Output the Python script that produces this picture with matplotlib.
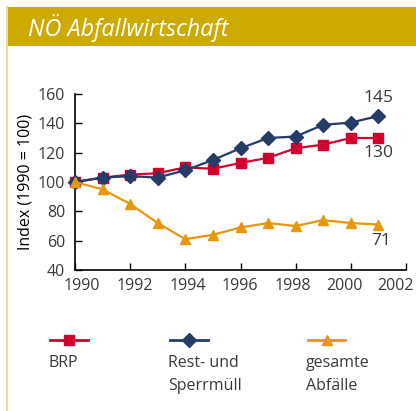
import matplotlib
matplotlib.use("Agg")
import matplotlib.pyplot as plt
import matplotlib.transforms as mtransforms
from matplotlib.lines import Line2D
from matplotlib.patches import Rectangle

years = [1990, 1991, 1992, 1993, 1994, 1995, 1996, 1997, 1998, 1999, 2000, 2001]
brp = [100, 103, 105, 106, 110, 109, 113, 116.5, 123, 125.5, 130, 130]
rest_sperr = [100, 103, 104, 103, 108, 115, 123, 130, 131, 139, 140.5, 145]
gesamt = [100, 95, 85, 72, 61, 64, 69, 72, 70, 74, 72, 71]

series_names = ["BRP", "Rest- und\nSperrmüll", "gesamte\nAbfälle"]
end_labels = ["130", "145", "71"]
xticks = [1990, 1992, 1994, 1996, 1998, 2000, 2002]
yticks = [40, 60, 80, 100, 120, 140, 160]

RED = "#D3002E"
NAVY = "#253B68"
ORANGE = "#E8960C"
GOLD = "#CCAA00"
TEXT = "#3a3a3a"

plt.rcParams["font.family"] = ["Open Sans", "DejaVu Sans"]

W, H = 416, 411
fig = plt.figure(figsize=(W / 100, H / 100), dpi=100)

# header band and left frame line
fig.add_artist(Rectangle((6 / W, 1 - 46 / H), 1, 39 / H, transform=fig.transFigure,
                         facecolor=GOLD, edgecolor="none"))
fig.add_artist(Line2D([6.5 / W, 6.5 / W], [0, 1 - 7 / H], transform=fig.transFigure,
                      color="#EAD9A0", lw=1.5))
fig.text(28 / W, 1 - 28 / H, "NÖ Abfallwirtschaft", color="white", fontsize=16.8,
         style="italic", va="center", ha="left")

ax = fig.add_axes([75 / W, 1 - 270 / H, (406 - 75) / W, (270 - 94) / H])
styles = [(brp, RED, "s", 7), (rest_sperr, NAVY, "D", 7), (gesamt, ORANGE, "^", 7.5)]
for vals, col, mk, ms in styles:
    ax.plot(years, vals, color=col, lw=1.6, marker=mk, ms=ms, zorder=3, clip_on=False)

ax.set_xlim(1990, 2002)
ax.set_ylim(40, 160)
ax.set_xticks(xticks)
ax.set_yticks(yticks)
ax.tick_params(direction="in", length=5, width=1, colors="black", labelcolor=TEXT,
               labelsize=11.5)
ax.tick_params(axis="y", pad=7)
ax.tick_params(axis="x", pad=6)
for s in ["top", "right"]:
    ax.spines[s].set_visible(False)
for s in ["left", "bottom"]:
    ax.spines[s].set_linewidth(1.2)
ax.set_ylabel("Index (1990 = 100)", fontsize=11.5, color="black", labelpad=3)

# year labels are spread evenly a little inside the axis ends
label_shift_px = [6.5, 4.5, 2, -1, -3, -6, -10]
for lbl, dx in zip(ax.get_xticklabels(), label_shift_px):
    lbl.set_transform(lbl.get_transform()
                      + mtransforms.ScaledTranslation(dx / 100, 0, fig.dpi_scale_trans))

# end-of-series value labels
ax.annotate(end_labels[1], (years[-1], rest_sperr[-1]), xytext=(0, 7),
            textcoords="offset points", ha="center", va="bottom", fontsize=12.5, color=TEXT)
ax.annotate(end_labels[0], (years[-1], brp[-1]), xytext=(0, -5),
            textcoords="offset points", ha="center", va="top", fontsize=12.5, color=TEXT)
ax.annotate(end_labels[2], (years[-1], gesamt[-1]), xytext=(2, -6),
            textcoords="offset points", ha="center", va="top", fontsize=12.5, color=TEXT)

# legend drawn below the axes
leg_x = [(50, 88), (170, 208), (308, 345)]
leg_y = 1 - 340 / H
for (x0, x1), (vals, col, mk, ms), name in zip(leg_x, styles, series_names):
    fig.add_artist(Line2D([x0 / W, x1 / W], [leg_y, leg_y], transform=fig.transFigure,
                          color=col, lw=2))
    fig.add_artist(Line2D([(x0 + x1) / 2 / W], [leg_y], transform=fig.transFigure,
                          color=col, marker=mk, ms=ms, lw=0))
    fig.text((x0 - 2) / W, 1 - 355 / H, name, fontsize=11.5, color=TEXT,
             ha="left", va="top", linespacing=1.55)

fig.savefig("out.png", dpi=100)
